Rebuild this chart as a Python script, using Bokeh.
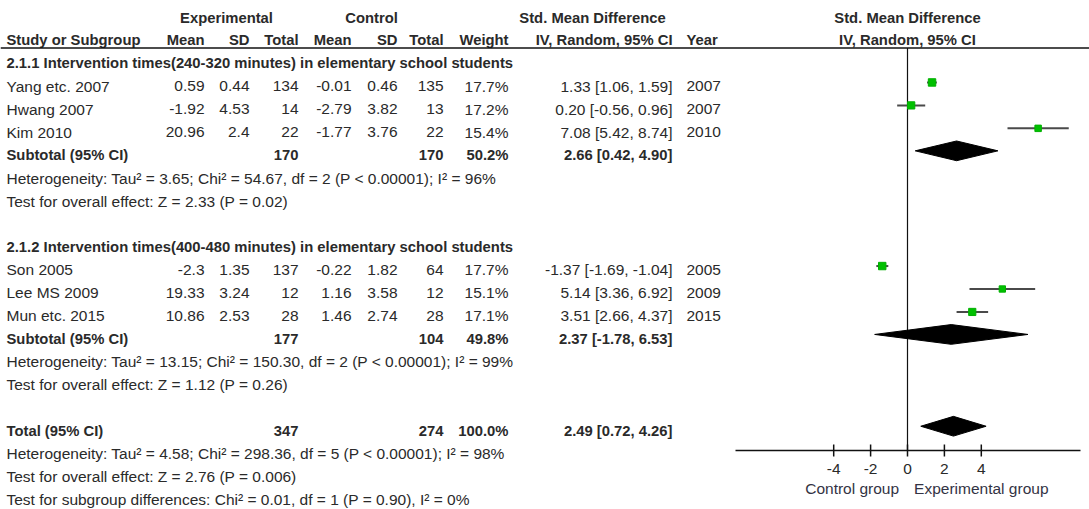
from bokeh.plotting import figure
from bokeh.models import Range1d, Span
from bokeh.core.properties import value
from bokeh.embed import file_html
from bokeh.resources import INLINE

# ---------------- data ----------------
studies = ["Yang etc. 2007", "Hwang 2007", "Kim 2010", "Son 2005", "Lee MS 2009", "Mun etc. 2015"]
study_group = [0, 0, 0, 1, 1, 1]
exp_mean = [0.59, -1.92, 20.96, -2.3, 19.33, 10.86]
exp_sd = [0.44, 4.53, 2.4, 1.35, 3.24, 2.53]
exp_n = [134, 14, 22, 137, 12, 28]
ctl_mean = [-0.01, -2.79, -1.77, -0.22, 1.16, 1.46]
ctl_sd = [0.46, 3.82, 3.76, 1.82, 3.58, 2.74]
ctl_n = [135, 13, 22, 64, 12, 28]
weight = [17.7, 17.2, 15.4, 17.7, 15.1, 17.1]
smd = [1.33, 0.20, 7.08, -1.37, 5.14, 3.51]
smd_lo = [1.06, -0.56, 5.42, -1.69, 3.36, 2.66]
smd_hi = [1.59, 0.96, 8.74, -1.04, 6.92, 4.37]
year = [2007, 2007, 2010, 2005, 2009, 2015]

groups = ["2.1.1 Intervention times(240-320 minutes) in elementary school students",
          "2.1.2 Intervention times(400-480 minutes) in elementary school students"]
sub_exp_n = [170, 177]
sub_ctl_n = [170, 104]
sub_weight = [50.2, 49.8]
sub_smd = [2.66, 2.37]
sub_lo = [0.42, -1.78]
sub_hi = [4.90, 6.53]
sub_het = ["Heterogeneity: Tau\u00b2 = 3.65; Chi\u00b2 = 54.67, df = 2 (P < 0.00001); I\u00b2 = 96%",
           "Heterogeneity: Tau\u00b2 = 13.15; Chi\u00b2 = 150.30, df = 2 (P < 0.00001); I\u00b2 = 99%"]
sub_test = ["Test for overall effect: Z = 2.33 (P = 0.02)",
            "Test for overall effect: Z = 1.12 (P = 0.26)"]

total_exp_n = 347
total_ctl_n = 274
total_weight = 100.0
total_smd = 2.49
total_lo = 0.72
total_hi = 4.26
total_het = "Heterogeneity: Tau\u00b2 = 4.58; Chi\u00b2 = 298.36, df = 5 (P < 0.00001); I\u00b2 = 98%"
total_test = "Test for overall effect: Z = 2.76 (P = 0.006)"
subgroup_test = "Test for subgroup differences: Chi\u00b2 = 0.01, df = 1 (P = 0.90), I\u00b2 = 0%"

axis_ticks = [-4, -2, 0, 2, 4]
favours_x = [-3, 4]
favours_text = ["Control group", "Experimental group"]

# ---------------- layout ----------------
FONT = "Liberation Sans"
FS = "15.5px"
FSB = "14.8px"
TC = "#2a2a2a"
W, H = 1089, 509
ROW_PX = 22.95
ROW0 = 17.0


def row_of(py):
    return (py - ROW0) / ROW_PX


ZERO_PX = 907.0
PX_UNIT = 18.45


def smd_of(px):
    return (px - ZERO_PX) / PX_UNIT


p = figure(width=W, height=H, x_range=Range1d(0, W), y_range=Range1d(row_of(H), row_of(0)),
           output_backend="svg", toolbar_location=None, x_axis_location=None,
           y_axis_location=None, min_border=0, outline_line_color=None)
p.grid.visible = False
p.extra_x_ranges = {"smd": Range1d(smd_of(0), smd_of(W))}


def txt(x, y, s, align="left", bold=False, color=TC, xr="default"):
    p.text(x=[x], y=[y], text=[s], text_align=align, text_baseline="middle",
           text_font=value(FONT), text_font_style="bold" if bold else "normal",
           text_font_size=FSB if bold else FS, text_color=color, x_range_name=xr)


C_MEAN1, C_SD1, C_N1 = 204, 249, 298
C_MEAN2, C_SD2, C_N2 = 351, 397, 443
C_W, C_CI, C_YEAR, C_STUDY = 508, 672, 686, 6

HEADER_LINE = row_of(47.5)
AXIS_ROW = row_of(450)

# header
txt(226, 0, "Experimental", "center", True)
txt(371, 0, "Control", "center", True)
txt(592, 0, "Std. Mean Difference", "center", True)
txt(C_STUDY, 1, "Study or Subgroup", "left", True)
for x, s in [(C_MEAN1, "Mean"), (C_SD1, "SD"), (C_N1, "Total"), (C_MEAN2, "Mean"), (C_SD2, "SD"),
             (C_N2, "Total"), (C_W, "Weight"), (C_CI, "IV, Random, 95% CI")]:
    txt(x, 1, s, "right", True)
txt(C_YEAR, 1, "Year", "left", True)
txt(0, 0, "Std. Mean Difference", "center", True, xr="smd")
txt(0, 1, "IV, Random, 95% CI", "center", True, xr="smd")
p.add_layout(Span(location=HEADER_LINE, dimension="width", line_color="#111111", line_width=1.5))


def ci_text(e, lo, hi):
    return f"{e:.2f} [{lo:.2f}, {hi:.2f}]"


study_rows = []
sub_rows = []
for g, name in enumerate(groups):
    base = 2 + 8 * g
    txt(C_STUDY, base, name, "left", True)
    idx = [i for i in range(len(studies)) if study_group[i] == g]
    for k, i in enumerate(idx):
        r = base + 1 + k
        study_rows.append(r)
        txt(C_STUDY, r, studies[i])
        txt(C_MEAN1, r, str(exp_mean[i]), "right")
        txt(C_SD1, r, str(exp_sd[i]), "right")
        txt(C_N1, r, str(exp_n[i]), "right")
        txt(C_MEAN2, r, str(ctl_mean[i]), "right")
        txt(C_SD2, r, str(ctl_sd[i]), "right")
        txt(C_N2, r, str(ctl_n[i]), "right")
        txt(C_W, r, f"{weight[i]:.1f}%", "right")
        txt(C_CI, r, ci_text(smd[i], smd_lo[i], smd_hi[i]), "right")
        txt(C_YEAR, r, str(year[i]))
    r = base + 4
    sub_rows.append(r)
    txt(C_STUDY, r, "Subtotal (95% CI)", "left", True)
    txt(C_N1, r, str(sub_exp_n[g]), "right", True)
    txt(C_N2, r, str(sub_ctl_n[g]), "right", True)
    txt(C_W, r, f"{sub_weight[g]:.1f}%", "right", True)
    txt(C_CI, r, ci_text(sub_smd[g], sub_lo[g], sub_hi[g]), "right", True)
    txt(C_STUDY, base + 5, sub_het[g])
    txt(C_STUDY, base + 6, sub_test[g])

TOT = 18
txt(C_STUDY, TOT, "Total (95% CI)", "left", True)
txt(C_N1, TOT, str(total_exp_n), "right", True)
txt(C_N2, TOT, str(total_ctl_n), "right", True)
txt(C_W, TOT, f"{total_weight:.1f}%", "right", True)
txt(C_CI, TOT, ci_text(total_smd, total_lo, total_hi), "right", True)
txt(C_STUDY, TOT + 1, total_het)
txt(C_STUDY, TOT + 2, total_test)
txt(C_STUDY, TOT + 3, subgroup_test)

# ---------------- forest panel ----------------
MARK_OFF = -0.17
p.segment(x0=[0], x1=[0], y0=[HEADER_LINE], y1=[AXIS_ROW], line_color="#111111", line_width=1.2,
          x_range_name="smd")

ys = [r + MARK_OFF for r in study_rows]
p.segment(x0=smd_lo, x1=smd_hi, y0=ys, y1=ys, line_color="#4a4a4a", line_width=2, x_range_name="smd")
p.scatter(x=smd, y=ys, marker="square", size=[w * 0.42 for w in weight],
          fill_color="#00c000", line_color="#00b000", x_range_name="smd")

d_est = sub_smd + [total_smd]
d_lo = sub_lo + [total_lo]
d_hi = sub_hi + [total_hi]
d_rows = [r - 0.19 for r in sub_rows + [TOT]]
HALF = 0.43
p.patches(xs=[[lo, e, hi, e] for e, lo, hi in zip(d_est, d_lo, d_hi)],
          ys=[[r, r - HALF, r, r + HALF] for r in d_rows],
          fill_color="black", line_color="black", x_range_name="smd")

# axis (drawn through the smd scale)
p.segment(x0=[smd_of(735)], x1=[smd_of(1080)], y0=[AXIS_ROW], y1=[AXIS_ROW],
          line_color="#111111", line_width=1.5, x_range_name="smd")
TICK = 6 / ROW_PX
p.segment(x0=axis_ticks, x1=axis_ticks, y0=[AXIS_ROW - TICK] * len(axis_ticks),
          y1=[AXIS_ROW + TICK] * len(axis_ticks), line_color="#111111", line_width=1.5,
          x_range_name="smd")
p.text(x=axis_ticks, y=[row_of(468)] * len(axis_ticks), text=[str(t) for t in axis_ticks],
       text_align="center", text_baseline="middle", text_font=value(FONT), text_font_size=FS,
       text_color=TC, x_range_name="smd")
p.text(x=favours_x, y=[row_of(488)] * len(favours_x), text=favours_text,
       text_align="center", text_baseline="middle", text_font=value(FONT), text_font_size=FS,
       text_color="#333344", x_range_name="smd")

open("out.html", "w").write(file_html(p, INLINE))
